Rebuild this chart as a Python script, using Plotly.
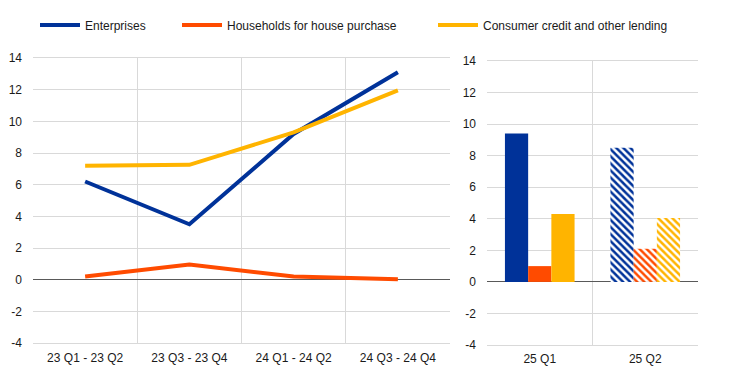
import plotly.graph_objects as go

# ---- data ----
periods = ["23 Q1 - 23 Q2", "23 Q3 - 23 Q4", "24 Q1 - 24 Q2", "24 Q3 - 24 Q4"]
enterprises = [6.2, 3.5, 9.2, 13.1]
households = [0.2, 0.95, 0.2, 0.02]
consumer = [7.2, 7.25, 9.3, 11.95]

quarters = ["25 Q1", "25 Q2"]
enterprises_q = [9.4, 8.5]
households_q = [1.0, 2.1]
consumer_q = [4.3, 4.05]

y_tick_values = [-4, -2, 0, 2, 4, 6, 8, 10, 12, 14]
y_tick_labels = ["-4", "-2", "0", "2", "4", "6", "8", "10", "12", "14"]

names = ["Enterprises", "Households for house purchase", "Consumer credit and other lending"]
colors = ["#003299", "#FF4B00", "#FFB400"]

FONT = "Liberation Sans, Arial, sans-serif"
W, H = 749, 385
GRID = "#d9d9d9"
OFF = 8  # page body margin compensation

fig = go.Figure()

line_series = [enterprises, households, consumer]
legends = ["legend", "legend2", "legend3"]
for name, ys, c, lg in zip(names, line_series, colors, legends):
    fig.add_trace(go.Scatter(x=periods, y=ys, name=name, mode="lines",
                             line=dict(color=c, width=4), legend=lg,
                             xaxis="x", yaxis="y"))

bar_series = [enterprises_q, households_q, consumer_q]
for name, ys, c in zip(names, bar_series, colors):
    fig.add_trace(go.Bar(x=quarters, y=ys, name=name, showlegend=False,
                         marker=dict(color=c, line=dict(width=0),
                                     pattern=dict(shape=["", "\\"], fgcolor=c, bgcolor="white",
                                                  size=5, solidity=0.5, fillmode="replace")),
                         xaxis="x2", yaxis="y2"))

def px_x(p):
    return (p - OFF) / W

def px_y(p):
    return (H - (p - OFF)) / H

yaxis_common = dict(range=[-4, 14], tickmode="array", tickvals=y_tick_values,
                    ticktext=y_tick_labels, showgrid=True, gridcolor=GRID, gridwidth=1,
                    zeroline=True, zerolinecolor="#595959", zerolinewidth=1,
                    showline=False, ticks="", ticklabelstandoff=10, automargin=False,
                    tickfont=dict(family=FONT, size=12, color="#1a1a1a"))
xaxis_common = dict(type="category", tickson="boundaries", showgrid=True, gridcolor=GRID,
                    gridwidth=1, showline=True, linecolor=GRID, mirror=True, ticks="",
                    automargin=False,
                    tickfont=dict(family=FONT, size=12, color="#1a1a1a"))

leg_common = dict(xanchor="left", yanchor="middle", orientation="h", itemwidth=40,
                  font=dict(family=FONT, size=12, color="#1a1a1a"), bgcolor="rgba(0,0,0,0)")

fig.update_layout(
    width=W, height=H,
    margin=dict(l=0, r=0, t=0, b=0, autoexpand=False),
    paper_bgcolor="white", plot_bgcolor="white",
    font=dict(family=FONT, size=12, color="#1a1a1a"),
    barmode="group", bargap=0.34, bargroupgap=0,
    xaxis=dict(domain=[px_x(33), px_x(450)], anchor="y", range=[-0.5, 3.5],
               ticklabelstandoff=4, **xaxis_common),
    yaxis=dict(domain=[px_y(343), px_y(58)], anchor="x", **yaxis_common),
    xaxis2=dict(domain=[px_x(487), px_x(698)], anchor="y2", range=[-0.5, 1.5],
                ticklabelstandoff=3, **xaxis_common),
    yaxis2=dict(domain=[px_y(345), px_y(61)], anchor="x2", **yaxis_common),
    legend=dict(x=px_x(35), y=px_y(25), **leg_common),
    legend2=dict(x=px_x(177), y=px_y(25), **leg_common),
    legend3=dict(x=px_x(433), y=px_y(25), **leg_common),
)

fig.write_html("out.html")
